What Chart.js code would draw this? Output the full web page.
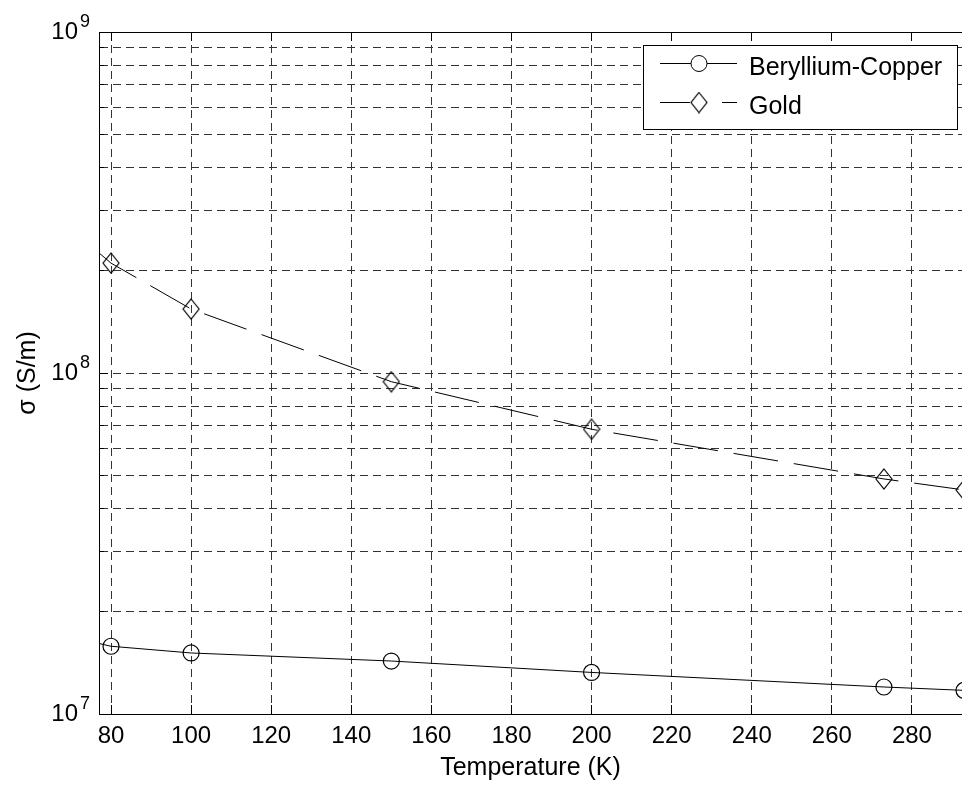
<!DOCTYPE html>
<html>
<head>
<meta charset="utf-8">
<script src="https://cdn.jsdelivr.net/npm/chart.js@4.4.1/dist/chart.umd.min.js"></script>
<style>
  html, body { margin: 0; padding: 0; background: #fff; overflow: hidden; }
  canvas { display: block; }
</style>
</head>
<body>
<canvas id="chart" width="962" height="789"></canvas>
<script>
// temperatures in K. 77 K is where the lines meet the left axis, no marker there
const temperatures = [77, 80, 100, 150, 200, 273, 293];
const berylliumCopper = [1.61e7, 1.58e7, 1.51e7, 1.43e7, 1.324e7, 1.20e7, 1.173e7];
const gold = [2.25e8, 2.10e8, 1.54e8, 9.43e7, 6.84e7, 4.89e7, 4.54e7];
const markerShown = [false, true, true, true, true, true, true];

const xTicks = [80, 100, 120, 140, 160, 180, 200, 220, 240, 260, 280];
const yDecades = [1e7, 1e8, 1e9];
const yMinorSteps = [2, 3, 4, 5, 6, 7, 8, 9];

const FONT = '"Liberation Sans", Arial, Helvetica, sans-serif';

// every decade plus its 2..9 multiples, like matlab's log grid
const yTicks = [];
yDecades.forEach((d, i) => {
    yTicks.push(d);
    if (i < yDecades.length - 1) yMinorSteps.forEach(m => yTicks.push(m * d));
});

// open diamond, a bit taller than wide
function diamondMarker(w, h) {
    const c = document.createElement('canvas');
    c.width = w + 2;
    c.height = h + 2;
    const g = c.getContext('2d');
    g.strokeStyle = '#000';
    g.lineWidth = 1.2;
    g.beginPath();
    g.moveTo(c.width / 2, 1);
    g.lineTo(c.width - 1, c.height / 2);
    g.lineTo(c.width / 2, c.height - 1);
    g.lineTo(1, c.height / 2);
    g.closePath();
    g.stroke();
    return c;
}
const diamond = diamondMarker(16, 20);

function align(p) {
    return Math.round(p - 0.5) + 0.5;
}

// box top edge, inward ticks, 10^n labels and the legend box
const matlabAxes = {
    id: 'matlabAxes',
    afterDraw(chart) {
        const {ctx, chartArea: a, scales: {x, y}} = chart;
        ctx.save();
        ctx.strokeStyle = '#000';
        ctx.lineWidth = 1;
        ctx.setLineDash([]);
        ctx.beginPath();
        ctx.moveTo(a.left, align(a.top));
        ctx.lineTo(a.right, align(a.top));
        xTicks.forEach(v => {
            const px = align(x.getPixelForValue(v));
            ctx.moveTo(px, a.bottom);
            ctx.lineTo(px, a.bottom - 9);
            ctx.moveTo(px, a.top);
            ctx.lineTo(px, a.top + 9);
        });
        yTicks.forEach(v => {
            const py = align(y.getPixelForValue(v));
            const len = yDecades.includes(v) ? 9 : 5;
            ctx.moveTo(a.left, py);
            ctx.lineTo(a.left + len, py);
        });
        ctx.stroke();

        ctx.fillStyle = '#000';
        ctx.textBaseline = 'alphabetic';
        yDecades.forEach(v => {
            const py = y.getPixelForValue(v);
            ctx.font = '24px ' + FONT;
            ctx.textAlign = 'right';
            ctx.fillText('10', a.left - 21, py + 7);
            ctx.font = '18px ' + FONT;
            ctx.textAlign = 'left';
            ctx.fillText(String(Math.round(Math.log10(v))), a.left - 19, py - 5);
        });

        // legend
        const box = {left: a.right - 319, top: a.top + 13, width: 314, height: 84};
        ctx.fillStyle = '#fff';
        ctx.fillRect(box.left, box.top, box.width, box.height);
        ctx.strokeRect(align(box.left), align(box.top), box.width, box.height);
        ctx.font = '25px ' + FONT;
        ctx.textAlign = 'left';
        chart.data.datasets.forEach((ds, i) => {
            const ry = align(box.top + 18 + i * 39);
            const mx = box.left + 56;
            ctx.beginPath();
            ctx.setLineDash(ds.borderDash ? [30, 32] : []);
            ctx.moveTo(box.left + 17, ry);
            ctx.lineTo(box.left + 94, ry);
            ctx.stroke();
            ctx.setLineDash([]);
            if (ds.pointStyle === 'circle') {
                ctx.fillStyle = '#fff';
                ctx.beginPath();
                ctx.arc(mx, ry, 8, 0, Math.PI * 2);
                ctx.fill();
                ctx.stroke();
            } else {
                ctx.fillStyle = '#fff';
                ctx.fillRect(mx - 7, ry - 1, 14, 2);
                ctx.drawImage(ds.pointStyle, mx - ds.pointStyle.width / 2, ry - ds.pointStyle.height / 2);
            }
            ctx.fillStyle = '#000';
            ctx.fillText(ds.label, box.left + 106, ry + 11);
        });
        ctx.restore();
    }
};

const gridStyle = {color: '#333', lineWidth: 1, drawTicks: false};
const borderStyle = {display: true, color: '#000', width: 1, dash: [8, 5]};

new Chart(document.getElementById('chart'), {
    type: 'line',
    data: {
        labels: temperatures,
        datasets: [
            {
                label: 'Beryllium-Copper',
                data: temperatures.map((t, i) => ({x: t, y: berylliumCopper[i]})),
                borderColor: '#000',
                borderWidth: 1,
                pointStyle: 'circle',
                pointRadius: markerShown.map(s => s ? 8 : 0),
                pointBorderColor: '#000',
                pointBackgroundColor: 'rgba(0,0,0,0)',
                pointBorderWidth: 1.2,
                tension: 0,
                fill: false
            },
            {
                label: 'Gold',
                data: temperatures.map((t, i) => ({x: t, y: gold[i]})),
                borderColor: '#000',
                borderWidth: 1,
                borderDash: [45, 16],
                pointStyle: diamond,
                pointRadius: markerShown.map(s => s ? 10 : 0),
                tension: 0,
                fill: false
            }
        ]
    },
    options: {
        responsive: false,
        devicePixelRatio: 1,
        animation: false,
        // no extra room for the markers: the axes run to the right edge
        layout: {autoPadding: false, padding: {top: 32, right: 0, bottom: 0, left: 0}},
        plugins: {
            legend: {display: false},
            tooltip: {enabled: false}
        },
        scales: {
            x: {
                type: 'linear',
                min: 77,
                max: 292.5,
                afterBuildTicks: s => { s.ticks = xTicks.map(v => ({value: v})); },
                afterFit: s => {
                    s.height = 75;
                    s.paddingLeft = 0;
                    s.paddingRight = 0;
                },
                grid: gridStyle,
                border: borderStyle,
                ticks: {color: '#000', font: {family: FONT, size: 24}, padding: 8, maxRotation: 0, autoSkip: false},
                title: {
                    display: true,
                    text: 'Temperature (K)',
                    color: '#000',
                    font: {family: FONT, size: 25},
                    padding: {top: 0, bottom: 6}
                }
            },
            y: {
                type: 'logarithmic',
                min: 1e7,
                max: 1e9,
                afterBuildTicks: s => { s.ticks = yTicks.map(v => ({value: v})); },
                afterFit: s => { s.width = 99; },
                grid: gridStyle,
                border: borderStyle,
                ticks: {display: false},
                title: {
                    display: true,
                    text: 'σ (S/m)',
                    color: '#000',
                    font: {family: FONT, size: 25},
                    padding: {top: 13, bottom: 0}
                }
            }
        }
    },
    plugins: [matlabAxes]
});
</script>
</body>
</html>
